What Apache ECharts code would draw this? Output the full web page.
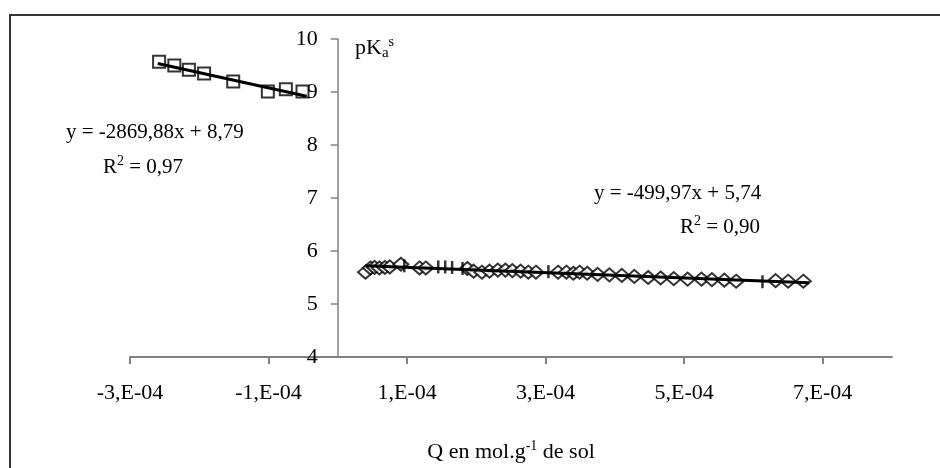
<!DOCTYPE html>
<html>
<head>
<meta charset="utf-8">
<script src="https://cdn.jsdelivr.net/npm/echarts@6/dist/echarts.min.js"></script>
<style>
    html, body { margin: 0; padding: 0; background: #fff; }
    #chart_pKa_Main { width: 940px; height: 468px; }
</style>
</head>
<body>
<div id="chart_pKa_Main"></div>
<script>
// points côté négatif (carrés)
var sqX = [-2.58e-4, -2.36e-4, -2.15e-4, -1.93e-4, -1.51e-4, -1.01e-4, -0.75e-4, -0.51e-4];
var sqY = [9.57, 9.50, 9.42, 9.35, 9.20, 9.01, 9.05, 9.01];

// points côté positif (losanges)
var diX = [0.40e-4, 0.47e-4, 0.53e-4, 0.60e-4, 0.68e-4, 0.75e-4, 0.91e-4, 1.18e-4, 1.27e-4,
    1.87e-4, 1.96e-4, 2.08e-4, 2.19e-4, 2.31e-4, 2.42e-4, 2.52e-4, 2.64e-4, 2.75e-4, 2.86e-4,
    3.18e-4, 3.30e-4, 3.40e-4, 3.49e-4, 3.60e-4, 3.75e-4, 3.92e-4, 4.10e-4, 4.28e-4, 4.48e-4,
    4.66e-4, 4.85e-4, 5.05e-4, 5.25e-4, 5.40e-4, 5.58e-4, 5.75e-4, 6.32e-4, 6.50e-4, 6.72e-4];
var diY = [5.60, 5.68, 5.69, 5.68, 5.69, 5.70, 5.75, 5.68, 5.68,
    5.67, 5.62, 5.60, 5.62, 5.64, 5.64, 5.63, 5.62, 5.60, 5.60,
    5.60, 5.60, 5.58, 5.60, 5.58, 5.56, 5.55, 5.54, 5.52, 5.50,
    5.49, 5.48, 5.47, 5.47, 5.46, 5.45, 5.43, 5.44, 5.43, 5.43];

// points côté positif (traits)
var plX = [0.96e-4, 1.45e-4, 1.55e-4, 1.65e-4, 1.80e-4, 3.04e-4, 6.13e-4];
var plY = [5.72, 5.70, 5.70, 5.69, 5.67, 5.61, 5.42];

// droites de régression [pente, ordonnée], et leurs bornes en x
var fit1 = [-2869.88, 8.79];
var fit1Range = [-2.60e-4, -0.45e-4];
var fit2 = [-499.97, 5.74];
var fit2Range = [0.40e-4, 6.80e-4];

var xRange = [-3e-4, 8e-4];
var xTickVals = [-3e-4, -1e-4, 1e-4, 3e-4, 5e-4, 7e-4];
var yTicks = [4, 10, 1]; // min, max, pas

var eq1Text = ['y = -2869,88x + 8,79', '0,97'];
var eq2Text = ['y = -499,97x + 5,74', '0,90'];

var pairs = function (xs, ys) {
    var out = [];
    for (var i = 0; i < xs.length; i++) {
        out.push([xs[i], ys[i]]);
    }
    return out;
};

var fitLine = function (f, r) {
    return [[r[0], f[0] * r[0] + f[1]], [r[1], f[0] * r[1] + f[1]]];
};

var FONT = "'Liberation Serif', 'Times New Roman', serif";

var GRID_L = 130, GRID_R = 48;
var gridW = 940 - GRID_L - GRID_R;
// decalage de l'axe Y pour qu'il passe par x = 0
var yAxisShift = gridW * (0 - xRange[0]) / (xRange[1] - xRange[0]);

var chart_pKa_Main = echarts.init(document.getElementById('chart_pKa_Main'));

var richTxt = {
    n: { fontFamily: FONT, fontSize: 21, color: '#000', verticalAlign: 'middle', lineHeight: 26 },
    big: { fontFamily: FONT, fontSize: 22, color: '#000', verticalAlign: 'middle', lineHeight: 26 },
    sup: { fontFamily: FONT, fontSize: 14, color: '#000', verticalAlign: 'top', lineHeight: 26, padding: [0, 0, 8, 0] },
    sub: { fontFamily: FONT, fontSize: 15, color: '#000', verticalAlign: 'bottom', lineHeight: 26, padding: [6, 0, 0, 0] }
};

var option = {
    animation: false,
    grid: {
        left: GRID_L,
        right: GRID_R,
        top: 39,
        bottom: 107
    },
    xAxis: {
        type: 'value',
        min: xRange[0],
        max: xRange[1],
        name: '{big|Q en mol.g}{sup|-1}{big| de sol}',
        nameLocation: 'middle',
        nameGap: 82,
        nameTextStyle: { rich: richTxt },
        axisLine: { onZero: false, lineStyle: { color: '#808080', width: 2 } },
        axisTick: { length: 7, customValues: xTickVals, lineStyle: { color: '#808080', width: 2 } },
        splitLine: { show: false },
        axisLabel: {
            margin: 25,
            color: '#000',
            fontFamily: FONT,
            fontSize: 22,
            customValues: xTickVals,
            formatter: function (v) {
                return Math.round(v * 1e4) + ',E-04';
            }
        }
    },
    yAxis: {
        type: 'value',
        min: yTicks[0],
        max: yTicks[1],
        interval: yTicks[2],
        offset: -yAxisShift,
        axisLine: { show: true, onZero: false, lineStyle: { color: '#808080', width: 1.5 } },
        axisTick: { show: true, length: 7, lineStyle: { color: '#808080', width: 1.5 } },
        splitLine: { show: false },
        axisLabel: {
            margin: 20,
            color: '#000',
            fontFamily: FONT,
            fontSize: 22
        }
    },
    graphic: [
        {
            type: 'rect',
            shape: { x: 10, y: 15, width: 1000, height: 600 },
            style: { fill: null, stroke: '#333', lineWidth: 2 },
            silent: true
        },
        {
            type: 'text',
            x: 66, y: 132,
            style: { text: eq1Text[0], font: '21px ' + FONT, fill: '#000', textVerticalAlign: 'middle' }
        },
        {
            type: 'text',
            x: 103, y: 167,
            style: { text: '{n|R}{sup|2}{n| = ' + eq1Text[1] + '}', rich: richTxt, textVerticalAlign: 'middle' }
        },
        {
            type: 'text',
            x: 594, y: 193,
            style: { text: eq2Text[0], font: '21px ' + FONT, fill: '#000', textVerticalAlign: 'middle' }
        },
        {
            type: 'text',
            x: 680, y: 227,
            style: { text: '{n|R}{sup|2}{n| = ' + eq2Text[1] + '}', rich: richTxt, textVerticalAlign: 'middle' }
        },
        {
            type: 'text',
            x: 355, y: 48,
            style: { text: '{big|pK}{sub|a}{sup|s}', rich: richTxt, textVerticalAlign: 'middle' }
        }
    ],
    series: [
        {
            type: 'scatter',
            symbol: 'rect',
            symbolSize: 12,
            data: pairs(sqX, sqY),
            itemStyle: { color: '#fff', borderColor: '#000', borderWidth: 2 },
            z: 2
        },
        {
            type: 'scatter',
            symbol: 'diamond',
            symbolSize: [15, 13],
            data: pairs(diX, diY),
            itemStyle: { color: '#fff', borderColor: '#000', borderWidth: 2 },
            z: 2
        },
        {
            type: 'scatter',
            symbol: 'rect',
            symbolSize: [2.5, 13],
            data: pairs(plX, plY),
            itemStyle: { color: '#000' },
            z: 3
        },
        {
            type: 'line',
            data: fitLine(fit1, fit1Range),
            symbol: 'none',
            lineStyle: { color: '#000', width: 3 },
            z: 4
        },
        {
            type: 'line',
            data: fitLine(fit2, fit2Range),
            symbol: 'none',
            lineStyle: { color: '#000', width: 3 },
            z: 4
        }
    ]
};

chart_pKa_Main.setOption(option);
</script>
</body>
</html>
